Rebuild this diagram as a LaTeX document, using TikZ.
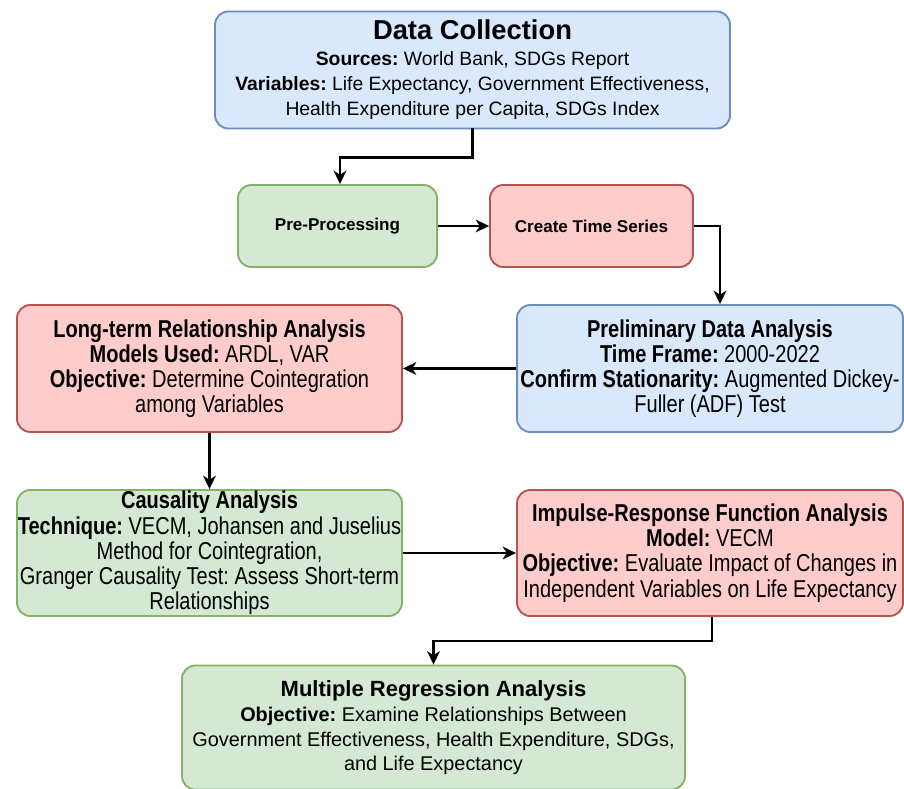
\documentclass[tikz,border=0pt]{standalone}
\usepackage{fontspec}
\setmainfont{Liberation Sans}
\newfontfamily\narrowfont[FakeStretch=0.82]{Liberation Sans}
\usepackage{xcolor}
\usetikzlibrary{arrows.meta,positioning,calc}
\definecolor{dioblue}{HTML}{DAE8FC}
\definecolor{diobluedraw}{HTML}{6C8EBF}
\definecolor{diogreen}{HTML}{D5E8D4}
\definecolor{diogreendraw}{HTML}{82B366}
\definecolor{diored}{HTML}{FFCCCC}
\definecolor{dioreddraw}{HTML}{B85450}
\frenchspacing

\begin{document}
\begin{tikzpicture}[x=0.75pt, y=-0.75pt,
    box/.style={rounded corners=10pt, line width=1.4pt, align=center,
                inner sep=0pt, anchor=center},
    bluebox/.style={box, draw=diobluedraw, fill=dioblue},
    greenbox/.style={box, draw=diogreendraw, fill=diogreen},
    redbox/.style={box, draw=dioreddraw, fill=diored},
    narrow/.style={font=\narrowfont\fontsize{18.3}{18.9}\selectfont},
    arr/.style={-{Stealth[length=10pt,width=9.5pt,inset=3pt]}, line width=1.6pt}
]
  \useasboundingbox (0,0) rectangle (904,789);

  % Top boxes
  \node[bluebox, minimum width=386.25pt, minimum height=87.75pt,
        font=\fontsize{14.5}{19}\selectfont] (dc) at (472.5,70)
    {{\fontsize{20.5}{24}\selectfont\textbf{Data Collection}}\\
     \textbf{Sources:} World Bank, SDGs Report\\
     \textbf{Variables:} Life Expectancy, Government Effectiveness,\\
     Health Expenditure per Capita, SDGs Index};

  \node[greenbox, minimum width=149.25pt, minimum height=61.5pt,
        font=\fontsize{12.8}{15}\selectfont\bfseries] (pre) at (337.5,226)
    {Pre-Processing};

  \node[redbox, minimum width=152.25pt, minimum height=61.5pt,
        font=\fontsize{12.8}{15}\selectfont\bfseries] (cts) at (591.5,226)
    {Create Time Series};

  % Middle boxes
  \node[bluebox, narrow, minimum width=289.5pt, minimum height=95.25pt] (pda) at (710,368.5)
    {\textbf{Preliminary Data Analysis}\\
     \textbf{Time Frame:} 2000-2022\\
     \textbf{Confirm Stationarity:} Augmented Dickey-\\
     Fuller (ADF) Test};

  \node[redbox, narrow, minimum width=288.75pt, minimum height=95.25pt] (ltr) at (209.5,368.5)
    {\textbf{Long-term Relationship Analysis}\\
     \textbf{Models Used:} ARDL, VAR\\
     \textbf{Objective:} Determine Cointegration\\
     among Variables};

  \node[greenbox, narrow, minimum width=288.75pt, minimum height=94.5pt] (caus) at (209.5,553)
    {\textbf{Causality Analysis}\\
     \textbf{Technique:} VECM, Johansen and Juselius\\
     Method for Cointegration,\\
     Granger Causality Test: Assess Short-term\\
     Relationships};

  \node[redbox, narrow, minimum width=289.5pt, minimum height=94.5pt] (irf) at (710,553)
    {\textbf{Impulse-Response Function Analysis}\\
     \textbf{Model:} VECM\\
     \textbf{Objective:} Evaluate Impact of Changes in\\
     Independent Variables on Life Expectancy};

  % Bottom box
  \node[greenbox, minimum width=377.25pt, minimum height=93pt,
        font=\fontsize{14.9}{18.3}\selectfont] (mra) at (433.5,727.5)
    {{\fontsize{16.5}{20}\selectfont\textbf{Multiple Regression Analysis}}\\[1pt]
     \textbf{Objective:} Examine Relationships Between\\
     Government Effectiveness, Health Expenditure, SDGs,\\
     and Life Expectancy};

  % Connecting arrows
  \draw[arr] ($(dc.south)+(0,-1.5)$) -- ++(0,29.5) -| ($(pre.north)+(2.5,0)$);
  \draw[arr] (pre.east) -- (cts.west);
  \draw[arr] (cts.east) -| ($(pda.north)+(10,0)$);
  \draw[arr] (pda.west) -- (ltr.east);
  \draw[arr] (ltr.south) -- (caus.north);
  \draw[arr] (caus.east) -- (irf.west);
  \draw[arr] ($(irf.south)+(2,0)$) -- ++(0,24) -| (mra.north);
\end{tikzpicture}
\end{document}
